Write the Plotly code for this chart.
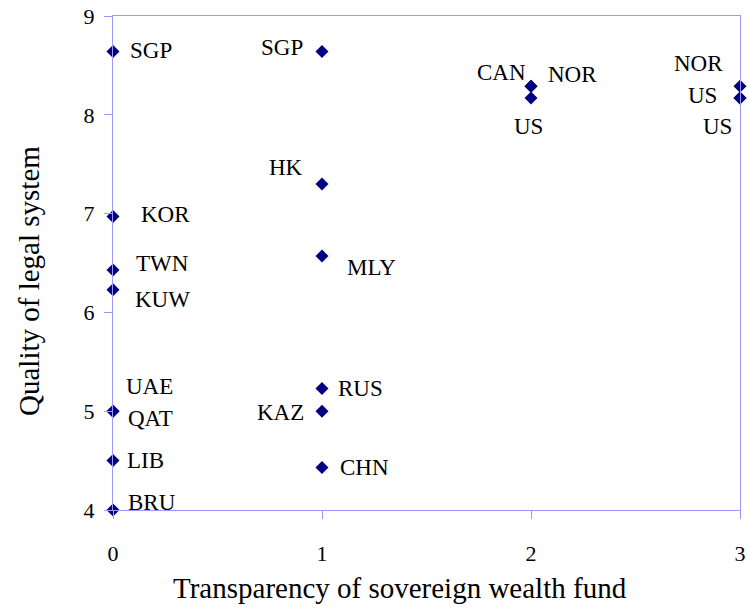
import plotly.graph_objects as go

countries = ["SGP", "KOR", "TWN", "KUW", "UAE", "QAT", "LIB", "BRU",
             "SGP", "HK", "MLY", "RUS", "KAZ", "CHN",
             "CAN", "NOR", "US",
             "NOR", "US", "US"]
transparency = [0, 0, 0, 0, 0, 0, 0, 0,
                1, 1, 1, 1, 1, 1,
                2, 2, 2,
                3, 3, 3]
legal_quality = [8.64, 6.97, 6.43, 6.23, 5.0, 5.0, 4.5, 4.0,
                 8.64, 7.30, 6.57, 5.23, 5.0, 4.43,
                 8.29, 8.29, 8.17,
                 8.29, 8.17, 8.17]
x_ticks = [0, 1, 2, 3]
y_ticks = [4, 5, 6, 7, 8, 9]

# label pixel offsets (dx right, dy up) relative to each marker
label_offsets = [(38, 1), (52, 2), (49, 6), (49, -10), (36, 25), (37, -7), (32, 0), (39, 8),
                 (-40, 4), (-36, 16), (49, -11), (38, 0), (-42, -1), (42, 0),
                 (-30, 14), (41, 12), (-3, -28),
                 (-42, 23), (-38, 3), (-23, -28)]

FONT = "Liberation Serif, Times New Roman, serif"
AXIS_COLOR = "#9999FF"

fig = go.Figure()
fig.add_trace(go.Scatter(
    x=transparency, y=legal_quality, mode="markers",
    marker=dict(symbol="diamond", size=10, color="#000080", line=dict(width=0)),
    cliponaxis=False, showlegend=False, hoverinfo="text", text=countries,
))

for name, xv, yv, (dx, dy) in zip(countries, transparency, legal_quality, label_offsets):
    fig.add_annotation(x=xv, y=yv, text=name, showarrow=False,
                       xshift=dx, yshift=dy, xanchor="center", yanchor="middle",
                       font=dict(family=FONT, size=23, color="black"))

fig.add_annotation(xref="paper", yref="paper", x=-0.134, y=0.4636,
                   text="Quality of legal system", textangle=-90, showarrow=False,
                   xanchor="center", yanchor="middle",
                   font=dict(family=FONT, size=29, color="black"))
fig.add_annotation(xref="paper", yref="paper", x=0.4577, y=-0.158,
                   text="Transparency of sovereign wealth fund", showarrow=False,
                   xanchor="center", yanchor="middle",
                   font=dict(family=FONT, size=29, color="black"))

fig.update_xaxes(range=[0, 3], tickvals=x_ticks, ticktext=[str(v) for v in x_ticks],
                 showgrid=False, zeroline=False, showline=True, linecolor=AXIS_COLOR,
                 linewidth=1, mirror=True, ticks="outside", ticklen=8, tickcolor=AXIS_COLOR,
                 ticklabelstandoff=16, automargin=False, ticklabeloverflow="allow",
                 tickfont=dict(family=FONT, size=22, color="black"))
fig.update_yaxes(range=[4, 9], tickvals=y_ticks, ticktext=[str(v) for v in y_ticks],
                 showgrid=False, zeroline=False, showline=True, linecolor=AXIS_COLOR,
                 linewidth=1, mirror=True, ticks="outside", ticklen=8, tickcolor=AXIS_COLOR,
                 ticklabelstandoff=5, automargin=False, ticklabeloverflow="allow",
                 tickfont=dict(family=FONT, size=22, color="black"))

fig.update_layout(width=749, height=614, margin=dict(l=113, r=9, t=16, b=104, autoexpand=False),
                  plot_bgcolor="white", paper_bgcolor="white")

# remove the default page margin so the figure fills the window exactly
fig.write_html("out.html", config={"displayModeBar": False},
               post_script="document.body.style.margin='0';document.body.style.overflow='hidden';")
